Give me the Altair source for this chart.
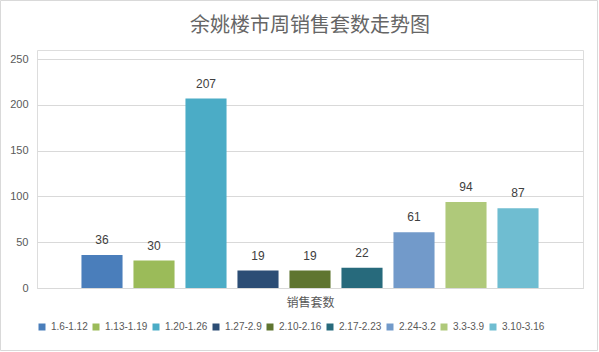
import altair as alt
import pandas as pd

weeks = ["1.6-1.12", "1.13-1.19", "1.20-1.26", "1.27-2.9", "2.10-2.16",
         "2.17-2.23", "2.24-3.2", "3.3-3.9", "3.10-3.16"]
sales = [36, 30, 207, 19, 19, 22, 61, 94, 87]
colors = ["#4a7ebb", "#9bbb59", "#4bacc6", "#2c4d75", "#5f7530",
          "#276a7c", "#729aca", "#afc97a", "#6fbdd1"]
y_ticks = [0, 50, 100, 150, 200, 250]

df = pd.DataFrame({"week": weeks, "sales": sales})

CJK = "Noto Sans CJK SC"
NUM = "Liberation Sans, Noto Sans CJK SC"

x = alt.X(
    "week:N", sort=weeks,
    scale=alt.Scale(paddingInner=0.21, paddingOuter=0.855),
    axis=alt.Axis(title="销售套数", labels=False, ticks=False, tickSize=0,
                  domain=True, domainColor="#d9d9d9", titleFontSize=12,
                  titleFont=CJK, titleColor="#595959", titleFontWeight="normal",
                  titlePadding=9),
)
y = alt.Y(
    "sales:Q", scale=alt.Scale(domain=[0, 250]),
    axis=alt.Axis(values=y_ticks, title=None, domain=False, ticks=False, tickSize=0,
                  gridColor="#d9d9d9", labelColor="#595959", labelFontSize=11,
                  labelFont=NUM, labelPadding=9),
)

base = alt.Chart(df)

bars = base.mark_bar().encode(
    x=x, y=y,
    color=alt.Color(
        "week:N", sort=weeks,
        scale=alt.Scale(domain=weeks, range=colors),
        legend=alt.Legend(
            title=None, orient="none", direction="horizontal",
            legendX=0, legendY=272, symbolType="square", symbolSize=49,
            symbolStrokeWidth=0, labelFontSize=10, labelFont=NUM,
            labelColor="#595959", columnPadding=3, labelOffset=4,
            padding=0,
        ),
    ),
)

labels = base.mark_text(baseline="bottom", dy=-8, fontSize=12, font=NUM,
                        color="#404040").encode(
    x=alt.X("week:N", sort=weeks), y="sales:Q", text="sales:Q")

frame = alt.Chart(pd.DataFrame({"a": [0]})).mark_rect(
    fillOpacity=0, stroke="#d9d9d9", strokeWidth=1).encode(
    x=alt.value(-36.5), x2=alt.value(560.5), y=alt.value(-49.5), y2=alt.value(300.5))

chart = alt.layer(frame, bars, labels).properties(
    width=546, height=238,
    autosize="none",
    padding={"left": 37, "top": 50, "right": 16, "bottom": 64},
    title=alt.Title("余姚楼市周销售套数走势图", fontSize=20, font=CJK,
                    fontWeight="normal", color="#666666", offset=-36),
).configure_view(stroke=None).configure(background="white")

chart.save("out.html", embed_options={"renderer": "svg", "actions": False})
